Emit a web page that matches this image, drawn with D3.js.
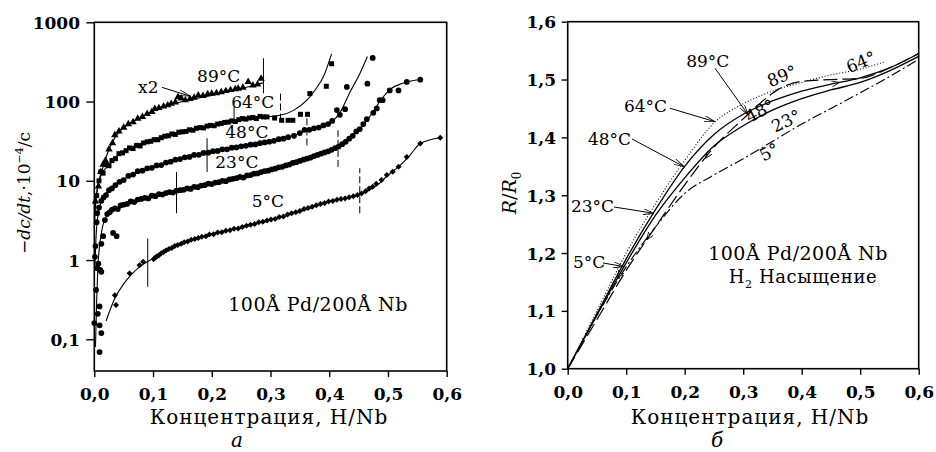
<!DOCTYPE html>
<html><head><meta charset="utf-8">
<script src="https://cdn.jsdelivr.net/npm/d3@7"></script>
<style>
body{margin:0;background:#fff}
svg{display:block;background:#fff}
text{font-family:"DejaVu Serif",serif;fill:#000}
</style>
</head><body>
<svg id="c" width="936" height="452"></svg>
<script>
// ---------------- DATA ----------------
const xTicks = [0, 0.1, 0.2, 0.3, 0.4, 0.5, 0.6];
const xTickLabels = ["0,0", "0,1", "0,2", "0,3", "0,4", "0,5", "0,6"];
const leftYTicks = [0.1, 1, 10, 100, 1000];
const leftYTickLabels = ["0,1", "1", "10", "100", "1000"];
const rightYTicks = [1.0, 1.1, 1.2, 1.3, 1.4, 1.5, 1.6];
const rightYTickLabels = ["1,0", "1,1", "1,2", "1,3", "1,4", "1,5", "1,6"];

// panel a : -dc/dt (10^-4/c) vs H/Nb  — measured points
const pts89 = [[0.002,5.5],[0.007,8.5],[0.011,13],[0.015,16],[0.019,18],[0.025,25],[0.031,30],[0.035,37.7],[0.042,42],[0.05,47],[0.058,52],[0.066,55],[0.074,61],[0.082,64],[0.09,70],[0.098,74],[0.103,81],[0.11,83],[0.118,87],[0.125,90],[0.131,94],[0.138,98],[0.1425,114],[0.148,110],[0.155,104],[0.163,108],[0.17,112],[0.177,120],[0.185,118],[0.193,124],[0.2,126],[0.208,128],[0.216,132],[0.224,136],[0.232,140],[0.24,144],[0.245,146],[0.253,150],[0.262,177],[0.27,160],[0.278,165],[0.284,195]];
const pts64 = [[0.004,6.5],[0.008,10],[0.011,13],[0.015,12.5],[0.02,16],[0.025,15.5],[0.03,18],[0.036,19],[0.042,22],[0.048,22.5],[0.054,24],[0.06,26],[0.066,25.5],[0.072,28],[0.078,27.5],[0.084,30],[0.09,31],[0.096,31.5],[0.102,33],[0.108,33],[0.114,35],[0.12,36.5],[0.126,37],[0.132,39],[0.138,38.5],[0.144,41],[0.15,41.5],[0.156,42],[0.162,44],[0.168,43.5],[0.174,46],[0.18,47],[0.186,46.5],[0.192,49],[0.198,50],[0.204,49.5],[0.21,52],[0.216,53],[0.222,54.5],[0.228,55],[0.234,57],[0.24,56],[0.246,59],[0.252,61],[0.258,60],[0.264,62],[0.27,63],[0.276,61],[0.282,65],[0.288,64],[0.294,64],[0.307,62],[0.319,58],[0.33,58],[0.338,58],[0.351,69],[0.363,69],[0.367,126],[0.395,156],[0.404,300]];
const pts48 = [[0.002,1.5],[0.004,3.0],[0.005,3.9],[0.008,4.6],[0.012,5.6],[0.016,6.2],[0.02,6.6],[0.025,7.6],[0.03,8.0],[0.036,8.8],[0.043,9.7],[0.05,10.2],[0.058,11.5],[0.066,12.0],[0.074,13.2],[0.082,13.4],[0.09,14.3],[0.098,14.6],[0.106,15.6],[0.114,15.8],[0.122,17.0],[0.13,17.4],[0.138,18.5],[0.146,18.8],[0.154,19.8],[0.162,20.0],[0.17,21.2],[0.178,21.3],[0.186,22.5],[0.194,22.6],[0.202,23.6],[0.21,23.8],[0.218,25.0],[0.226,25.0],[0.234,26.2],[0.242,26.4],[0.25,27.2],[0.258,27.6],[0.266,28.6],[0.274,28.8],[0.282,29.8],[0.29,30.5],[0.298,31.2],[0.306,32.0],[0.314,33.5],[0.322,34.0],[0.33,35.5],[0.34,37],[0.35,40],[0.358,44],[0.366,44],[0.374,46],[0.382,47],[0.39,50],[0.398,52],[0.405,57],[0.413,78],[0.418,68],[0.427,80],[0.43,153],[0.465,168],[0.474,355]];
const pts23 = [[0.001,1.1],[0.003,0.42],[0.005,0.79],[0.006,0.21],[0.009,0.26],[0.009,0.15],[0.012,0.12],[0.009,0.069],[0.012,0.71],[0.0,0.16],[0.007,0.9],[0.01,0.75],[0.012,1.6],[0.015,2.0],[0.032,2.2],[0.038,2.0],
 [0.018,3.2],[0.022,3.8],[0.026,4.0],[0.03,4.3],[0.035,4.5],[0.04,4.4],[0.045,4.9],[0.05,5.0],[0.056,5.1],[0.062,5.5],[0.068,5.4],[0.074,5.8],[0.08,5.9],[0.086,6.1],[0.092,6.0],[0.098,6.5],[0.104,6.4],[0.11,6.8],[0.116,6.7],[0.122,7.0],[0.128,7.2],[0.134,7.1],[0.14,7.5],[0.146,7.6],[0.152,7.7],[0.158,8.0],[0.164,7.9],[0.17,8.4],[0.176,8.3],[0.182,8.7],[0.188,8.8],[0.194,9.2],[0.2,9.1],[0.206,9.5],[0.212,9.6],[0.218,10.0],[0.224,9.9],[0.23,10.4],[0.236,10.6],[0.242,10.8],[0.248,11.2],[0.254,11.0],[0.26,11.7],[0.266,11.8],[0.272,12.3],[0.278,12.4],[0.284,12.9],[0.29,13.2],[0.296,13.4],[0.302,13.9],[0.308,14.2],[0.314,14.8],[0.32,15.0],[0.326,15.6],[0.332,16.0],[0.338,16.8],[0.344,17.2],[0.35,17.8],[0.356,18.5],[0.362,19.0],[0.368,19.6],[0.374,20.5],[0.38,21.2],[0.386,22.0],[0.392,22.8],[0.398,23.5],[0.404,24.6],[0.41,25.8],[0.416,27],[0.422,29],[0.428,31],[0.434,34],[0.44,37],[0.446,42],[0.452,45],[0.458,52],[0.464,60],[0.475,72],[0.481,82],[0.486,104],[0.491,104],[0.503,138],[0.518,138],[0.532,177],[0.555,189]];
const pts5 = [[0.035,0.36],[0.037,0.27],[0.06,0.68],[0.077,0.86],[0.083,0.95],
 [0.101,1.02],[0.104,1.08],[0.107,1.12],[0.11,1.15],[0.114,1.22],[0.118,1.26],[0.122,1.32],[0.127,1.38],[0.132,1.42],[0.137,1.5],[0.142,1.55],[0.148,1.6],[0.153,1.68],[0.159,1.72],[0.165,1.8],[0.171,1.84],[0.177,1.9],[0.183,1.97],[0.19,2.0],[0.196,2.1],[0.203,2.12],[0.21,2.22],[0.217,2.25],[0.224,2.35],[0.231,2.38],[0.238,2.48],[0.245,2.5],[0.252,2.62],[0.259,2.7],[0.266,2.78],[0.273,2.85],[0.28,3.0],[0.287,3.05],[0.294,3.15],[0.301,3.25],[0.308,3.3],[0.315,3.5],[0.322,3.55],[0.329,3.75],[0.336,3.9],[0.343,4.0],[0.35,4.15],[0.357,4.4],[0.364,4.55],[0.371,4.7],[0.378,4.9],[0.385,5.1],[0.392,5.25],[0.399,5.5],[0.406,5.55],[0.413,5.75],[0.42,5.9],[0.427,6.0],[0.434,6.2],[0.441,6.4],[0.448,6.6],[0.455,6.9],[0.462,7.4],[0.468,8.0],[0.474,8.4],[0.48,9.2],[0.489,10.2],[0.498,11.8],[0.508,13],[0.518,15],[0.532,20],[0.555,29.5],[0.589,35]];

// panel a : fitted curves
const fit89 = [[0.0,2.5],[0.003,6],[0.008,10],[0.015,15],[0.025,25],[0.038,38],[0.055,50],[0.078,63],[0.1,76],[0.13,92],[0.16,104],[0.2,120],[0.24,140],[0.287,172]];
const fit64 = [[0.002,5],[0.006,8.5],[0.012,12],[0.022,15],[0.04,21],[0.07,28],[0.1,33],[0.13,38],[0.16,43.5],[0.2,50],[0.24,58],[0.28,63],[0.316,67],[0.34,78],[0.362,104],[0.376,140],[0.39,205],[0.404,400]];
const fit48 = [[0.001,0.8],[0.003,2],[0.006,3.6],[0.012,5.5],[0.022,7.2],[0.035,9],[0.05,10.5],[0.075,13],[0.1,15],[0.13,18],[0.16,20.5],[0.19,23],[0.23,25.8],[0.27,28.6],[0.3,31.5],[0.34,37.5],[0.362,43],[0.39,50],[0.405,56],[0.418,72],[0.435,130],[0.452,225],[0.465,370]];
const fit23 = [[0.002,0.08],[0.004,0.3],[0.006,0.8],[0.009,1.5],[0.013,2.4],[0.02,3.5],[0.04,4.6],[0.07,5.6],[0.1,6.5],[0.14,7.4],[0.18,8.6],[0.22,10],[0.26,11.6],[0.3,13.6],[0.34,17],[0.38,21.5],[0.415,27],[0.44,38],[0.46,52],[0.475,75],[0.49,110],[0.505,145],[0.525,170],[0.555,190]];
const fit5 = [[0.02,0.17],[0.035,0.33],[0.05,0.5],[0.065,0.68],[0.08,0.85],[0.1,1.05],[0.12,1.3],[0.16,1.75],[0.2,2.15],[0.25,2.6],[0.3,3.2],[0.35,4.1],[0.4,5.5],[0.45,6.7],[0.47,7.8],[0.485,9.2],[0.5,11.8],[0.518,15],[0.535,20],[0.555,29.5],[0.589,35]];

// panel a : phase-boundary markers [x, low, high]
const solidMarks = [[0.288,127,352],[0.238,53,86],[0.192,12.9,34.4],[0.14,3.9,12.9],[0.091,0.46,1.87]];
const dashMarks = [[0.317,57.6,127],[0.362,28,71],[0.415,15,43.5],[0.452,3.9,14.4]];

// panel б : R/R0 vs H/Nb
const r89 = [[0,1],[0.05,1.085],[0.1,1.17],[0.15,1.245],[0.2,1.318],[0.25,1.383],[0.3,1.432],[0.33,1.46],[0.36,1.483],[0.4,1.497],[0.45,1.5],[0.5,1.502],[0.55,1.52],[0.6,1.545]];
const r64 = [[0,1],[0.05,1.1],[0.1,1.2],[0.15,1.285],[0.2,1.36],[0.25,1.425],[0.3,1.458],[0.35,1.48],[0.4,1.495],[0.45,1.508],[0.5,1.518],[0.54,1.53]];
const r48 = [[0,1],[0.05,1.095],[0.1,1.19],[0.15,1.275],[0.2,1.35],[0.25,1.405],[0.3,1.44],[0.35,1.463],[0.4,1.48],[0.45,1.492],[0.5,1.503],[0.55,1.52],[0.6,1.545]];
const r23 = [[0,1],[0.05,1.093],[0.1,1.183],[0.15,1.265],[0.2,1.33],[0.25,1.385],[0.3,1.42],[0.35,1.447],[0.4,1.467],[0.45,1.482],[0.5,1.495],[0.55,1.515],[0.6,1.54]];
const r5 = [[0,1],[0.05,1.092],[0.1,1.176],[0.15,1.245],[0.2,1.303],[0.25,1.335],[0.3,1.363],[0.35,1.393],[0.4,1.423],[0.45,1.45],[0.5,1.477],[0.55,1.505],[0.6,1.535]];

// ---------------- DRAW ----------------
const svg = d3.select("#c");
svg.append("rect").attr("width",936).attr("height",452).attr("fill","#fff");
const defs = svg.append("defs");
defs.append("marker").attr("id","ah").attr("viewBox","0 0 10 10").attr("refX",10).attr("refY",5)
  .attr("markerWidth",11).attr("markerHeight",6).attr("markerUnits","userSpaceOnUse")
  .attr("preserveAspectRatio","none").attr("orient","auto")
  .append("path").attr("d","M0,0 L10,5 L0,10").attr("fill","none").attr("stroke","#000").attr("stroke-width",1.2);
defs.append("marker").attr("id","ah2").attr("viewBox","0 0 10 10").attr("refX",10).attr("refY",5)
  .attr("markerWidth",8).attr("markerHeight",6).attr("markerUnits","userSpaceOnUse")
  .attr("preserveAspectRatio","none").attr("orient","auto")
  .append("path").attr("d","M0,0 L10,5 L0,10").attr("fill","none").attr("stroke","#000").attr("stroke-width",1.3);

// Left panel scales
const xL = d3.scaleLinear().domain([0,0.6]).range([94.3,446.7]);
const yL = d3.scaleLog().domain([Math.pow(10,-1.4),1000]).range([371,22.3]);
// Right panel scales
const xR = d3.scaleLinear().domain([0,0.6]).range([567.7,918.7]);
const yR = d3.scaleLinear().domain([1.0,1.6]).range([368.7,21.7]);

function axes(g, x, y, yTicks, yLabels, yPad, yTick){
  const ax = d3.axisBottom(x).tickValues(xTicks).tickFormat((d,i)=>xTickLabels[i]).tickSize(6).tickSizeOuter(0).tickPadding(11);
  const gx = g.append("g").attr("transform",`translate(0,${y.range()[0]})`).call(ax);
  const ay = d3.axisLeft(y).tickValues(yTicks).tickFormat((d,i)=>yLabels[i]).tickSize(yTick).tickSizeOuter(0).tickPadding(yPad);
  const gy = g.append("g").attr("transform",`translate(${x.range()[0]},0)`).call(ay);
  [gx,gy].forEach(a=>{
    a.attr("font-family",null).attr("font-size",null);
    a.selectAll("text").style("font-size","17px").style("font-weight","bold").attr("fill","#000");
    a.selectAll("line").attr("stroke","#000").attr("stroke-width",1.4);
    a.select(".domain").remove();
  });
  gy.selectAll("text").attr("dy","0.36em");
  g.append("rect").attr("x",x.range()[0]).attr("y",y.range()[1])
   .attr("width",x.range()[1]-x.range()[0]).attr("height",y.range()[0]-y.range()[1])
   .attr("fill","none").attr("stroke","#000").attr("stroke-width",1.6);
}

const gL = svg.append("g");
const gR = svg.append("g");
axes(gL, xL, yL, leftYTicks, leftYTickLabels, 6.3, 8);
axes(gR, xR, yR, rightYTicks, rightYTickLabels, 5.7, 6);

// ---- Left panel content
const lineL = d3.line().x(d=>xL(d[0])).y(d=>yL(d[1])).curve(d3.curveMonotoneX);
[fit89,fit64,fit48,fit23,fit5].forEach(f=>{
  gL.append("path").attr("d",lineL(f)).attr("fill","none").attr("stroke","#000").attr("stroke-width",1.1);
});
function drawPts(data, type, size, rot){
  const s = d3.symbol().type(type).size(size);
  gL.append("g").selectAll("path").data(data).join("path")
    .attr("d",s).attr("fill","#000")
    .attr("transform",d=>`translate(${xL(d[0])},${yL(d[1])})${rot?" rotate(45)":""}`);
}
drawPts(pts89, d3.symbolTriangle, 24, false);
drawPts(pts64, d3.symbolSquare, 25, false);
drawPts(pts48, d3.symbolCircle, 26, false);
drawPts(pts23, d3.symbolCircle, 26, false);
drawPts(pts5, d3.symbolSquare, 18, true);

gL.append("g").selectAll("line").data(solidMarks).join("line")
  .attr("x1",d=>xL(d[0])).attr("x2",d=>xL(d[0])).attr("y1",d=>yL(d[1])).attr("y2",d=>yL(d[2]))
  .attr("stroke","#000").attr("stroke-width",1);
gL.append("g").selectAll("line").data(dashMarks).join("line")
  .attr("x1",d=>xL(d[0])).attr("x2",d=>xL(d[0])).attr("y1",d=>yL(d[1])).attr("y2",d=>yL(d[2]))
  .attr("stroke","#000").attr("stroke-width",1).attr("stroke-dasharray","7,3");

// left annotations (data coords)
const annL = [["89°C",0.175,175],["64°C",0.233,82],["48°C",0.223,34.4],["23°C",0.206,14.4],["5°C",0.268,4.65],["x2",0.0745,127]];
annL.forEach(a=>{
  gL.append("text").attr("x",xL(a[1])).attr("y",yL(a[2])).text(a[0]).style("font-size","17px");
});
gL.append("line").attr("x1",xL(0.1153)).attr("y1",yL(151)).attr("x2",xL(0.163)).attr("y2",yL(117))
  .attr("stroke","#000").attr("stroke-width",1).attr("marker-end","url(#ah)");
gL.append("text").attr("x",xL(0.381)).attr("y",yL(0.229)).attr("text-anchor","middle")
  .style("font-size","19px").style("letter-spacing","0.5px").text("100Å Pd/200Å Nb");

// ---- Right panel content
const lineR = d3.line().x(d=>xR(d[0])).y(d=>yR(d[1])).curve(d3.curveMonotoneX);
const rStyles = [[r64,"1,2",1.1],[r48,null,1.3],[r23,null,1.3],[r89,"14,5",1.2],[r5,"10,3,2,3",1.1]];
rStyles.forEach(s=>{
  gR.append("path").attr("d",lineR(s[0])).attr("fill","none").attr("stroke","#000")
    .attr("stroke-width",s[2]).attr("stroke-dasharray",s[1]);
});
// direction arrowheads on curves: [series, from index, to index]
const dirArrows = [[r48,9,10],[r89,5,4],[r89,3,2],[r23,2,1]];
dirArrows.forEach(a=>{
  const p = a[0][a[1]], q = a[0][a[2]];
  gR.append("line").attr("x1",xR(p[0])).attr("y1",yR(p[1])).attr("x2",xR(p[0]+(q[0]-p[0])*0.3)).attr("y2",yR(p[1]+(q[1]-p[1])*0.3))
    .attr("stroke","none").attr("marker-end","url(#ah2)");
});
const annR = [["89°C",0.2026,1.5217,0.2518,1.5195,0.3087,1.4387],
              ["64°C",0.0962,1.4444,0.1749,1.4503,0.2518,1.4271],
              ["48°C",0.0347,1.3868,0.1099,1.3972,0.1988,1.3493],
              ["23°C",0.0056,1.2715,0.0791,1.2796,0.1475,1.2687],
              ["5°C",0.0091,1.1741,0.0603,1.1828,0.0968,1.1764]];
annR.forEach(a=>{
  gR.append("text").attr("x",xR(a[1])).attr("y",yR(a[2])).text(a[0]).style("font-size","17px");
  gR.append("line").attr("x1",xR(a[3])).attr("y1",yR(a[4])).attr("x2",xR(a[5])).attr("y2",yR(a[6]))
    .attr("stroke","#000").attr("stroke-width",1).attr("marker-end","url(#ah)");
});
const rotR = [["89°",0.3663,1.5061,-22],["64°",0.5014,1.5303,-22],["48°",0.3287,1.4456,-28],["23°",0.3732,1.4283,-25],["5°",0.3443,1.3747,-28]];
rotR.forEach(a=>{
  gR.append("text").attr("text-anchor","middle").attr("dy","0.35em")
    .attr("transform",`translate(${xR(a[1])},${yR(a[2])}) rotate(${a[3]})`)
    .style("font-size","17px").text(a[0]);
});
gR.append("text").attr("x",xR(0.3937)).attr("y",yR(1.188)).attr("text-anchor","middle").style("font-size","19px").style("letter-spacing","0.5px").text("100Å Pd/200Å Nb");
const h2 = gR.append("text").attr("x",xR(0.4022)).attr("y",yR(1.1477)).attr("text-anchor","middle").style("font-size","18px").style("letter-spacing","0.6px");
h2.append("tspan").text("H");
h2.append("tspan").attr("dy",5).style("font-size","11px").text("2");
h2.append("tspan").attr("dy",-5).text(" Насыщение");

// axis titles
svg.append("text").attr("x",269).attr("y",424).attr("text-anchor","middle").style("font-size","20px").style("letter-spacing","1px").text("Концентрация, H/Nb");
svg.append("text").attr("x",750).attr("y",424).attr("text-anchor","middle").style("font-size","20px").style("letter-spacing","1px").text("Концентрация, H/Nb");
svg.append("text").attr("x",237).attr("y",447).attr("text-anchor","middle").style("font-size","20px").style("font-style","italic").text("а");
svg.append("text").attr("x",717).attr("y",447).attr("text-anchor","middle").style("font-size","20px").style("font-style","italic").text("б");

const yt = svg.append("text").attr("transform","translate(30,193) rotate(-90)").attr("text-anchor","middle").style("font-size","17px");
yt.append("tspan").style("font-style","italic").text("−dc/dt");
yt.append("tspan").text(",·10");
yt.append("tspan").attr("dy",-7).style("font-size","11px").text("−4");
yt.append("tspan").attr("dy",7).text("/с");

const yr = svg.append("text").attr("text-anchor","middle").style("font-size","19px")
  .attr("transform","translate(516,193) rotate(-90)");
yr.append("tspan").style("font-style","italic").text("R");
yr.append("tspan").text("/");
yr.append("tspan").style("font-style","italic").text("R");
yr.append("tspan").attr("dy",5).style("font-size","12px").text("0");
</script>
</body></html>
